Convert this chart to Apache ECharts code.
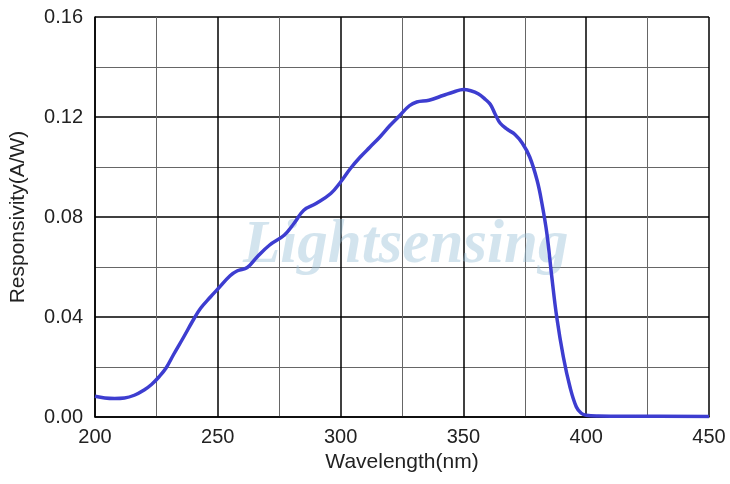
<!DOCTYPE html>
<html>
<head>
<meta charset="utf-8">
<script src="https://cdn.jsdelivr.net/npm/echarts@6/dist/echarts.min.js"></script>
<style>html,body{margin:0;padding:0;background:#fff}#c{width:730px;height:484px}</style>
</head>
<body>
<div id="c"></div>
<script>
const wavelengths = [200,204,208,212,216,220,223,226,229,232,236,240,243,247,250,255,258,262,266,271,277,281,285,290,296,300,304,308,312,316,320,324,328,331,336,342,346,350,353,356,359,361,363,365,368,371,374,377,380,382,384,386,388,390.7,393.4,396,398,400,405,420,450];
const responsivity = [0.0083,0.0076,0.0074,0.0076,0.0087,0.0108,0.0130,0.0160,0.0197,0.0250,0.0318,0.0388,0.0435,0.0480,0.0512,0.0565,0.0585,0.0598,0.0640,0.0687,0.0727,0.0774,0.0827,0.0854,0.0894,0.0940,0.0994,0.1040,0.1080,0.1120,0.1165,0.1205,0.1245,0.1260,0.1267,0.1287,0.1300,0.1310,0.1305,0.1293,0.1270,0.1250,0.1210,0.1175,0.1150,0.1130,0.1095,0.1040,0.0947,0.0853,0.0733,0.0560,0.0400,0.0240,0.0120,0.0040,0.0015,0.0007,0.0004,0.0003,0.0002];
const xTicks = [200,250,300,350,400,450];
const yTicks = [0.00,0.04,0.08,0.12,0.16];
const xName = 'Wavelength(nm)';
const yName = 'Responsivity(A/W)';
const watermark = 'Lightsensing';

const chart = echarts.init(document.getElementById('c'));
const font = 'Arial, "Liberation Sans", sans-serif';
chart.setOption({
  animation: false,
  backgroundColor: '#fff',
  grid: {left: 94, right: 21, top: 17, bottom: 67, containLabel: false},
  graphic: [{
    type: 'text', left: 243, top: 216, z: 1, silent: true,
    style: {text: watermark, font: 'italic bold 61px "Liberation Serif", "DejaVu Serif", serif', fill: 'rgba(150,190,215,0.42)'}
  }],
  xAxis: {
    type: 'value', min: xTicks[0], max: xTicks[xTicks.length-1], interval: 50,
    name: xName, nameLocation: 'middle', nameGap: 34,
    nameTextStyle: {fontSize: 21, color: '#222', fontFamily: font},
    axisLine: {show: true, lineStyle: {color: '#000', width: 1.5}},
    axisTick: {show: false},
    axisLabel: {fontSize: 20, color: '#222', fontFamily: font, margin: 10},
    splitLine: {show: true, lineStyle: {color: '#000', width: 1.5}},
    minorTick: {show: false, splitNumber: 2},
    minorSplitLine: {show: true, lineStyle: {color: '#666', width: 1}}
  },
  yAxis: {
    type: 'value', min: yTicks[0], max: yTicks[yTicks.length-1], interval: 0.04,
    name: yName, nameLocation: 'middle', nameGap: 66, nameRotate: 90,
    nameTextStyle: {fontSize: 21, color: '#222', fontFamily: font},
    axisLine: {show: true, lineStyle: {color: '#000', width: 1.5}},
    axisTick: {show: false},
    axisLabel: {fontSize: 20, color: '#222', fontFamily: font, margin: 12,
      formatter: v => v.toFixed(2)},
    splitLine: {show: true, lineStyle: {color: '#000', width: 1.5}},
    minorTick: {show: false, splitNumber: 2},
    minorSplitLine: {show: true, lineStyle: {color: '#666', width: 1}}
  },
  series: [{
    type: 'line', z: 5,
    data: wavelengths.map((w, i) => [w, responsivity[i]]),
    smooth: 0.4, showSymbol: false, symbol: 'none',
    lineStyle: {color: '#3d3dd0', width: 3.5}
  }]
});
</script>
</body>
</html>
